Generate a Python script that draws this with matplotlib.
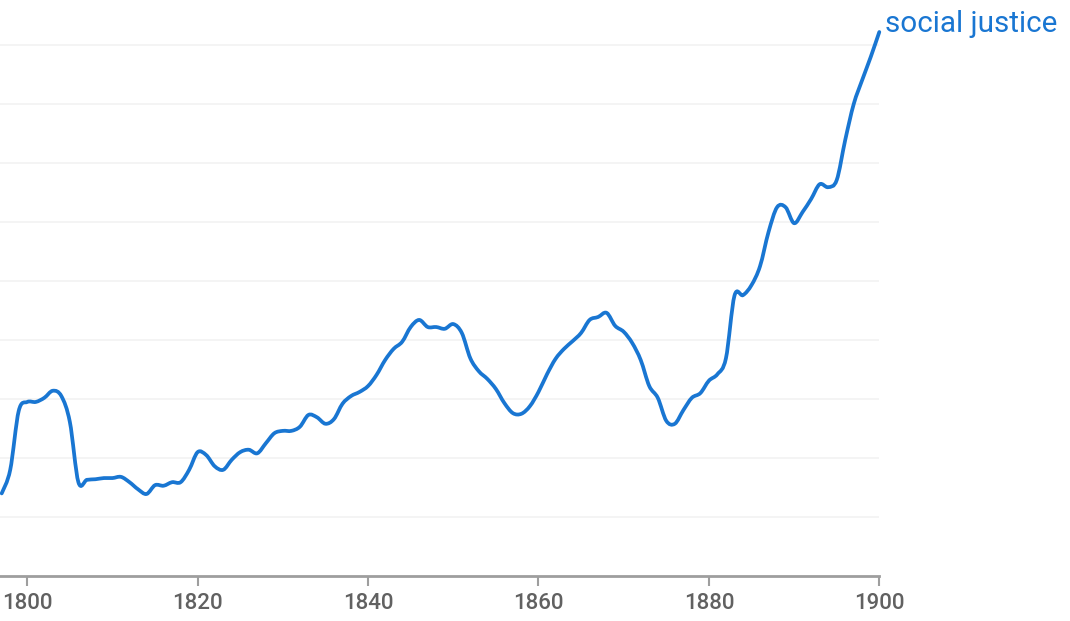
import matplotlib
matplotlib.use("Agg")
import matplotlib.pyplot as plt
from matplotlib.path import Path
from matplotlib.patches import PathPatch
import numpy as np

years = list(range(1797, 1901))
values = [
    1.40, 1.80, 2.80, 2.95, 2.95, 3.02, 3.14, 3.05, 2.61, 1.59,  # 1797-1806
    1.63, 1.64, 1.66, 1.66, 1.68, 1.59, 1.47, 1.39, 1.54, 1.53,  # 1807-1816
    1.59, 1.59, 1.80, 2.10, 2.05, 1.86, 1.80, 1.97, 2.10, 2.14,  # 1817-1826
    2.08, 2.25, 2.42, 2.46, 2.46, 2.53, 2.73, 2.69, 2.58, 2.66,  # 1827-1836
    2.92, 3.05, 3.12, 3.22, 3.41, 3.66, 3.85, 3.97, 4.22, 4.34,  # 1837-1846
    4.22, 4.22, 4.19, 4.27, 4.12, 3.69, 3.47, 3.34, 3.17, 2.93,  # 1847-1856
    2.76, 2.75, 2.88, 3.12, 3.42, 3.68, 3.85, 3.98, 4.12, 4.34,  # 1857-1866
    4.39, 4.46, 4.24, 4.14, 3.95, 3.66, 3.22, 3.02, 2.63, 2.58,  # 1867-1876
    2.81, 3.02, 3.10, 3.31, 3.42, 3.69, 4.75, 4.76, 4.93, 5.25,  # 1877-1886
    5.83, 6.25, 6.25, 5.98, 6.17, 6.39, 6.64, 6.59, 6.71, 7.39,  # 1887-1896
    8.00, 8.41, 8.80, 9.22,                                      # 1897-1900
]
series_label = "social justice"
xticks = [1800, 1820, 1840, 1860, 1880, 1900]
grid_levels = [1, 2, 3, 4, 5, 6, 7, 8, 9]

plt.rcParams['font.family'] = ['Roboto', 'DejaVu Sans']

fig = plt.figure(figsize=(10.7, 6.21), dpi=100)
ax = fig.add_axes([0.0, 45 / 621, 879.3 / 1070, (576 - 15.5) / 621])

line_color = '#1976d2'
ax.set_xlim(1796.8, 1900)
ax.set_ylim(0, 9.5)

for g in grid_levels:
    ax.axhline(g, color='#f2f2f2', linewidth=1.2, zorder=0)

# smooth rendering of the yearly series with Catmull-Rom style Bezier segments
x = np.asarray(years, dtype=float)
y = np.asarray(values, dtype=float)
xp = np.concatenate([[x[0]], x, [x[-1]]])
yp = np.concatenate([[y[0]], y, [y[-1]]])
verts = [(x[0], y[0])]
codes = [Path.MOVETO]
for i in range(len(x) - 1):
    p0 = np.array([xp[i], yp[i]])
    p1 = np.array([xp[i + 1], yp[i + 1]])
    p2 = np.array([xp[i + 2], yp[i + 2]])
    p3 = np.array([xp[i + 3], yp[i + 3]])
    c1 = p1 + (p2 - p0) / 6.0
    c2 = p2 - (p3 - p1) / 6.0
    verts += [tuple(c1), tuple(c2), tuple(p2)]
    codes += [Path.CURVE4] * 3
path = Path(verts, codes)
ax.add_patch(PathPatch(path, facecolor='none', edgecolor=line_color, linewidth=2.7,
                       capstyle='round', joinstyle='round', clip_on=False, zorder=3))

ax.annotate(series_label, xy=(years[-1], values[-1]), xytext=(4, 5.5),
            textcoords='offset points', color=line_color, fontsize=21.3,
            ha='left', va='center', annotation_clip=False)

for s in ['top', 'right', 'left']:
    ax.spines[s].set_visible(False)
ax.spines['bottom'].set_color('#9e9e9e')
ax.spines['bottom'].set_linewidth(2)
ax.set_yticks([])
ax.set_xticks(xticks)
ax.set_xticklabels([str(t) for t in xticks], fontweight='medium')
ax.tick_params(axis='x', direction='out', length=7, width=1.5, color='#9e9e9e',
               labelcolor='#616161', labelsize=16, pad=5)

fig.savefig('out.png', dpi=100)
